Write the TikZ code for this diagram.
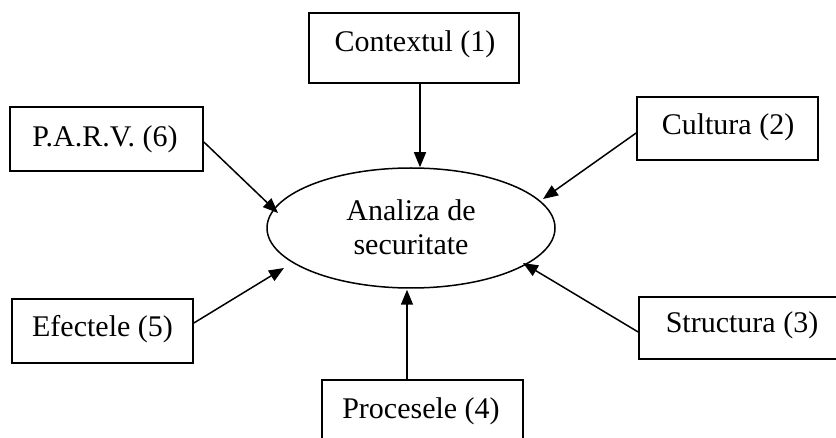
\documentclass[tikz,border=0pt]{standalone}
\usepackage{fontspec}
\setmainfont{Liberation Serif}
\usetikzlibrary{arrows.meta,shapes.geometric,calc}
\begin{document}
\begin{tikzpicture}[x=1pt,y=-1pt,
  box/.style={draw,line width=1.7pt,rectangle,inner sep=0pt},
  lbl/.style={anchor=base,inner sep=0pt,font=\fontsize{30}{34}\selectfont},
  arr/.style={line width=1.5pt,-{Triangle[length=15pt,width=12pt]}}]
\useasboundingbox (0,0) rectangle (836,438);
\clip (0,0) rectangle (836,438);
% boxes
\node[box,minimum width=210pt,minimum height=70pt] (ctx) at (414,48) {};
\node[box,minimum width=181pt,minimum height=63pt] (cul) at (727.5,128.5) {};
\node[box,minimum width=193pt,minimum height=64pt] (parv) at (106.5,139) {};
\node[box,minimum width=181pt,minimum height=64pt] (efe) at (102.5,331) {};
\node[box,minimum width=203pt,minimum height=62pt] (str) at (740.5,328) {};
\node[box,minimum width=201pt,minimum height=70pt] (pro) at (422.5,415) {};
% ellipse
\node[draw,ellipse,inner sep=0pt,line width=1.5pt,minimum width=288pt,minimum height=120pt] (ana) at (411,228) {};
% labels
\node[lbl] (tctx) at (415,52) {Contextul (1)};
\node[lbl] (tcul) at (728,135) {Cultura (2)};
\node[lbl] (tparv) at (105,147) {P.A.R.V. (6)};
\node[lbl] (tefe) at (102.5,337) {Efectele (5)};
\node[lbl] (tstr) at (742,333) {Structura (3)};
\node[lbl] (tpro) at (421,418) {Procesele (4)};
\node[lbl] (ta1) at (411,221) {Analiza de};
\node[lbl] (ta2) at (411,255) {securitate};
% arrows
\draw[arr] ($(ctx.south)+(6,0)$) -- ($(ana.north)+(9,0)$);
\draw[arr] ($(cul.west)+(0,4.5)$) -- ($(ana.center)+(132,-29)$);
\draw[arr] ($(parv.east)+(0,3)$) -- ($(ana.center)+(-133,-15)$);
\draw[arr] ($(efe.east)+(0,-8)$) -- ($(ana.center)+(-127,40)$);
\draw[arr] ($(str.west)+(0,4)$) -- ($(ana.center)+(112,35)$);
\draw[arr] ($(pro.north)+(-15.5,0)$) -- ($(ana.south)+(-4,1)$);
\end{tikzpicture}
\end{document}
